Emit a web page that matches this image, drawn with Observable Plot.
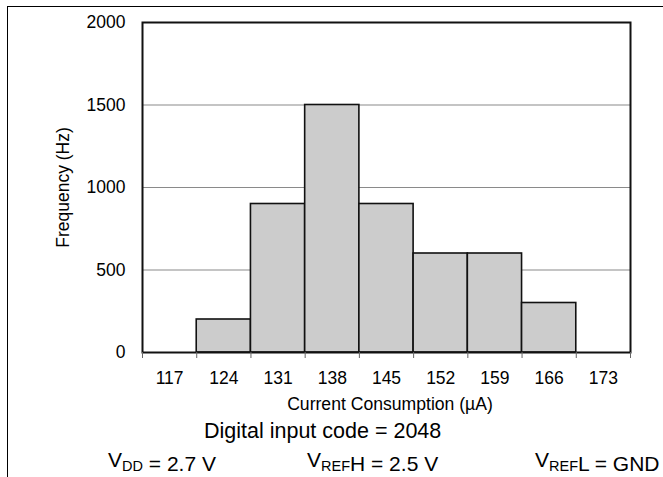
<!DOCTYPE html>
<html><head><meta charset="utf-8">
<script src="https://cdn.jsdelivr.net/npm/d3@7"></script>
<script src="https://cdn.jsdelivr.net/npm/@observablehq/plot@0.6"></script>
<style>
body{margin:0;background:#fff;font-family:"Liberation Sans",Arial,sans-serif;}
#wrap{position:relative;width:663px;height:477px;overflow:hidden;}
#border{position:absolute;left:7px;top:6px;width:700px;height:500px;border-left:1.5px solid #000;border-top:1.5px solid #000;}
#chart{position:absolute;left:0;top:0;}
#notes{position:absolute;left:0;top:0;}
</style></head><body>
<div id="wrap"><div id="border"></div><div id="chart"></div><svg id="notes" width="663" height="477"></svg></div>
<script>
const centers = [117, 124, 131, 138, 145, 152, 159, 166, 173];
const freq = [0, 200, 900, 1500, 900, 600, 600, 300, 0];
const yTicks = [0, 500, 1000, 1500, 2000];
const gridValues = [500, 1000, 1500];
const xLabel = "Current Consumption (µA)";
const yLabel = "Frequency (Hz)";
const note = "Digital input code = 2048";
const conditions = [
  [["V", false], ["DD", true], [" = 2.7 V", false]],
  [["V", false], ["REF", true], ["H = 2.5 V", false]],
  [["V", false], ["REF", true], ["L = GND", false]]
];
const binWidth = 7;
const bins = centers.map((c, i) => ({x1: c - binWidth / 2, x2: c + binWidth / 2, y: freq[i]}));
const edges = [...bins.map(b => b.x1), bins[bins.length - 1].x2];

const chart = Plot.plot({
  width: 663, height: 477,
  marginLeft: 142, marginRight: 33, marginTop: 22, marginBottom: 125,
  style: {fontFamily: '"Liberation Sans", Arial, sans-serif', fontSize: "17.5px", color: "#000", background: "transparent"},
  x: {domain: [edges[0], edges[edges.length - 1]]},
  y: {domain: [0, 2000]},
  marks: [
    Plot.gridY(gridValues, {stroke: "#8a8a8a", strokeOpacity: 1, strokeWidth: 1.2}),
    Plot.rectY(bins, {x1: "x1", x2: "x2", y: "y", fill: "#cccccc", stroke: "#111", strokeWidth: 1.6}),
    Plot.frame({stroke: "#111", strokeWidth: 2}),
    Plot.axisY(yTicks, {tickSize: 0, tickPadding: 17, fontSize: 17.5, tickFormat: d => String(d), label: yLabel, labelAnchor: "center", labelArrow: "none", labelOffset: 86}),
    Plot.axisX(edges, {tickSize: 6, stroke: "#666", tickFormat: () => "", label: null}),
    Plot.axisX(centers, {tickSize: 0, tickPadding: 19, fontSize: 17.5, tickFormat: d => String(d), label: null})
  ]
});
document.getElementById("chart").appendChild(chart);

const svg = d3.select("#notes").style("font-family", '"Liberation Sans", Arial, sans-serif').attr("fill", "#000");
svg.append("text").attr("x", 390).attr("y", 410).attr("text-anchor", "middle").attr("font-size", 17.6).text(xLabel);
svg.append("text").attr("x", 204).attr("y", 438).attr("font-size", 21.5).text(note);
const starts = [108, 307, 535];
conditions.forEach((parts, i) => {
  const t = svg.append("text").attr("x", starts[i]).attr("y", 467).attr("font-size", 21);
  parts.forEach(([s, sub]) => {
    t.append("tspan").attr("font-size", sub ? 14.5 : 21).attr("dy", sub ? 4 : 0).text(s);
    if (sub) t.append("tspan").attr("dy", -4).text("");
  });
});
</script>
</body></html>
